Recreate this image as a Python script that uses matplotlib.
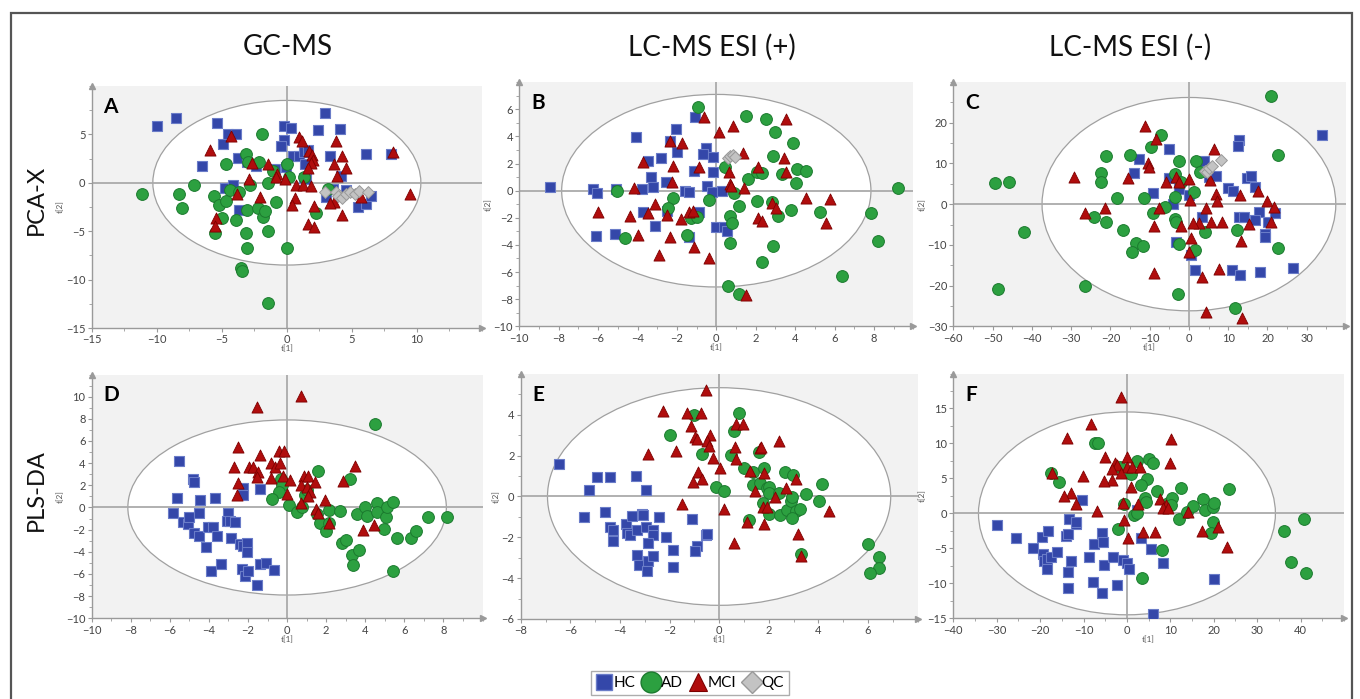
import matplotlib
matplotlib.use('Agg')
import matplotlib.pyplot as plt
from matplotlib.patches import Ellipse, Rectangle
from matplotlib.ticker import MultipleLocator
from matplotlib.lines import Line2D

plt.rcParams['font.family'] = ['Lato', 'DejaVu Sans']

COL_TITLES = ["GC-MS", "LC-MS ESI (+)", "LC-MS ESI (-)"]
ROW_TITLES = ["PCA-X", "PLS-DA"]
GROUPS = ["HC", "AD", "MCI", "QC"]

# ---------------- Panel A (GC-MS, PCA-X) ----------------
A_HC = [(-9.95, 5.9), (-8.55, 6.65), (-5.4, 6.2), (-4.5, 5.0), (-3.93, 5.0), (-4.92, 3.97),
        (-6.56, 1.76), (-3.78, 2.59), (-3.06, 2.1), (-2.4, 1.72), (-4.72, -0.52), (-4.13, -0.24),
        (-3.65, -2.83), (-0.2, 5.9), (0.3, 5.69), (-0.23, 4.41), (-0.43, 3.83), (-0.89, 1.41),
        (-0.03, 1.66), (0.46, 2.76), (0.97, 2.76), (1.33, 3.2), (1.66, 3.38), (1.43, 1.9),
        (1.28, 0.45), (1.48, 0.38), (2.96, 7.17), (2.4, 5.45), (4.06, 5.52), (3.34, 2.76),
        (4.16, 0.69), (3.52, -0.66), (3.04, -1.45), (4.52, -0.76), (5.48, -2.55), (6.1, -2.24),
        (6.43, -1.34), (6.12, 2.97), (8.04, 2.93)]
A_AD = [(-11.15, -1.2), (-8.29, -1.17), (-8.04, -2.59), (-7.14, -0.24), (-5.59, -1.38), (-5.23, -2.31),
        (-4.64, -1.86), (-4.67, 1.97), (-5.0, -3.62), (-5.56, -5.24), (-3.9, -3.83), (-4.36, -0.76),
        (-3.65, -1.0), (-3.14, 2.93), (-3.01, 2.1), (-2.8, -0.24), (-3.06, -2.83), (-3.14, -5.24),
        (-3.06, -6.79), (-3.52, -8.76), (-3.44, -9.14), (-2.14, 2.1), (-2.24, -2.59), (-1.84, -3.52),
        (-1.71, -2.9), (-1.43, -0.07), (-1.48, -5.03), (-1.45, -12.38), (-1.91, 5.0), (-0.87, -2.0),
        (-1.05, 1.21), (0.0, 1.9), (0.2, 0.55), (0.0, -6.72), (1.28, 0.62), (2.22, -3.1), (3.19, -0.66)]
A_MCI = [(-5.92, 3.38), (-4.29, 4.83), (-2.68, 2.07), (-2.91, 0.38), (-3.85, -1.2), (-5.48, -3.62),
         (-5.54, -4.48), (-2.07, -1.52), (-1.45, 1.9), (-0.77, 0.86), (-0.87, 0.62), (-0.15, 0.38),
         (0.74, -0.24), (0.64, -1.55), (0.43, -2.31), (0.94, 4.76), (1.15, 4.31), (1.71, 3.28),
         (1.91, 2.86), (2.04, 2.34), (1.84, 2.0), (1.66, 1.55), (1.25, -0.24), (1.89, -0.31),
         (1.61, -4.21), (2.12, -4.55), (2.09, -2.38), (3.75, 4.34), (4.21, 2.76), (3.65, 1.9),
         (3.83, 0.69), (4.57, 1.48), (3.62, -1.97), (3.32, -2.14), (4.21, -3.34), (5.69, -1.52),
         (8.16, 3.2), (9.44, -1.17)]
A_QC = [(2.93, -1.0), (3.8, -1.0), (3.95, -1.34), (4.26, -1.55), (4.52, -1.2), (4.82, -0.93),
        (5.2, -1.2), (5.54, -0.86), (6.25, -0.93)]
A_ELLIPSE = (10.3, 8.5)

# ---------------- Panel B (LC-MS ESI+, PCA-X) ----------------
B_HC = [(-8.44, 0.3), (-6.28, 0.12), (-6.04, -0.15), (-6.13, -3.32), (-5.14, -3.2), (-5.09, 0.12),
        (-4.08, 3.93), (-3.49, 2.19), (-3.33, 1.03), (-3.79, 0.1), (-3.2, 0.3), (-2.83, 2.43),
        (-2.55, 0.66), (-2.49, -1.5), (-3.74, -1.55), (-3.1, -2.58), (-2.35, 3.66), (-2.05, 4.52),
        (-1.98, 2.88), (-1.59, -0.02), (-1.39, -0.07), (-1.39, -3.42), (-1.08, 5.46), (-1.12, 1.48),
        (-0.86, -1.55), (-0.54, 3.17), (-0.66, 2.68), (-0.15, 2.51), (-0.19, 1.35), (-0.46, 0.34),
        (-0.24, -0.12), (0.3, -0.02), (-0.03, -2.7), (0.41, -2.66), (0.56, -2.98)]
B_AD = [(-0.95, 6.2), (-5.06, -0.02), (-4.65, -3.52), (-2.22, -0.57), (-2.44, -1.25), (-1.3, -2.04),
        (-0.96, -1.92), (-1.51, -3.27), (-0.36, -0.69), (0.44, 1.77), (0.91, -0.2), (0.69, -1.84),
        (0.8, -2.36), (0.69, -3.88), (1.15, -1.13), (0.58, -7.0), (1.17, -7.65), (1.49, 5.53),
        (2.5, 5.29), (2.98, 4.3), (3.91, 3.54), (2.86, 2.58), (1.62, 0.86), (2.05, 1.35),
        (2.34, 1.28), (3.35, 1.23), (4.08, 1.6), (4.53, 1.48), (4.04, 0.59), (2.08, -0.74),
        (2.84, -0.86), (3.15, -1.87), (3.79, -1.43), (2.89, -4.06), (2.34, -5.29), (5.26, -1.6),
        (6.38, -6.29), (7.83, -1.67), (8.19, -3.71), (9.2, 0.2)]
B_MCI = [(-0.64, 5.46), (0.15, 4.3), (0.86, 4.77), (3.54, 5.29), (1.37, 2.75), (2.13, 1.77),
         (3.43, 2.39), (3.54, 1.4), (0.66, 1.4), (0.69, 0.47), (0.73, 0.34), (1.42, 0.17),
         (-0.88, 1.72), (-2.22, 1.84), (-1.73, 3.49), (-2.35, 3.66), (-2.27, 0.66), (-3.71, 2.09),
         (-4.16, 0.22), (-3.11, -0.98), (-3.49, -1.67), (-4.38, -1.87), (-5.99, -1.6), (-3.96, -3.27),
         (-2.89, -4.75), (-2.52, -1.8), (-2.35, -3.39), (-1.79, -2.09), (-1.37, -1.55), (-1.17, -1.5),
         (-1.12, -4.13), (-0.36, -4.99), (2.84, -0.93), (3.01, -1.3), (2.13, -1.99), (2.34, -2.21),
         (4.55, -0.52), (5.77, -0.61), (5.57, -2.41), (1.49, -7.7)]
B_QC = [(0.6, 2.4), (0.72, 2.55), (0.85, 2.65), (0.95, 2.5)]
B_ELLIPSE = (7.85, 7.1)

# ---------------- Panel C (LC-MS ESI-, PCA-X) ----------------
C_HC = [(-5.08, 13.5), (-12.8, 11.2), (-14.0, 7.7), (-9.15, 2.66), (-5.08, 6.33), (-2.54, 3.72),
        (-4.07, -0.05), (0.0, 2.24), (3.81, 10.67), (5.0, 6.74), (6.95, 6.99), (-3.39, -9.2),
        (0.59, -12.5), (1.44, -16.2), (3.39, -3.24), (9.92, 3.88), (11.19, 3.22), (12.7, 15.7),
        (12.46, 14.35), (14.83, 6.33), (15.85, 6.9), (16.95, 4.29), (12.88, -3.24), (13.9, -3.24),
        (17.8, -1.85), (16.78, -3.9), (20.17, -4.5), (21.86, -2.1), (19.4, -7.33), (19.3, -8.0),
        (10.93, -16.2), (13.1, -17.4), (18.05, -16.75), (26.6, -15.76), (33.8, 17.1)]
C_AD = [(20.85, 26.6), (-49.4, 5.27), (-45.76, 5.35), (-41.95, -6.9), (-48.5, -20.9), (-26.36, -20.0),
        (-24.15, -3.24), (-22.5, 7.56), (-22.3, 5.35), (-21.1, 11.9), (-21.0, -4.3), (-18.2, 1.42),
        (-16.8, -6.3), (-14.9, 12.06), (-13.4, -9.6), (-14.6, -11.8), (-11.7, -10.4), (-11.5, 1.42),
        (-9.75, 14.1), (-9.15, -2.26), (-7.1, 17.1), (-6.2, -0.62), (-3.56, 7.4), (-3.64, 1.83),
        (-3.64, -3.65), (-3.22, -4.47), (-2.54, 10.6), (-2.12, 5.52), (-2.54, -9.87), (-2.7, -22.15),
        (1.27, 2.9), (1.69, 10.6), (2.7, 7.97), (1.44, -11.26), (3.98, -6.76), (12.2, -6.35),
        (11.86, -25.6), (22.8, 12.06), (22.8, -10.85)]
C_MCI = [(-11.27, 19.27), (-8.3, 15.97), (-10.5, 10.0), (-10.17, 9.2), (-15.5, 6.33), (-5.93, 5.35),
         (-3.39, 6.74), (-2.54, 5.35), (0.0, 6.17), (0.34, 1.0), (6.36, 13.5), (5.25, 5.9),
         (6.78, 2.4), (7.2, 0.77), (4.4, -1.0), (13.05, 2.24), (17.54, 3.22), (19.83, 0.85),
         (21.6, -0.79), (20.9, -4.3), (15.4, -4.87), (13.14, -8.97), (8.3, -4.3), (5.5, -4.3),
         (2.54, -4.7), (1.0, -4.55), (0.59, -8.25), (0.0, -11.65), (-1.95, -5.3), (-7.7, -0.87),
         (-8.9, -5.35), (-8.9, -17.0), (-21.44, -0.87), (-26.36, -2.26), (-29.3, 6.6), (3.39, -17.8),
         (7.63, -16.0), (4.24, -26.56), (13.56, -28.0)]
C_QC = [(4.15, 8.1), (4.6, 7.95), (5.0, 8.8), (5.85, 9.45), (8.2, 10.8)]
C_ELLIPSE = (37.4, 26.2)

# ---------------- Panel D (GC-MS, PLS-DA) ----------------
D_HC = [(-5.51, 4.2), (-5.65, 0.89), (-5.82, -0.53), (-5.31, -1.34), (-5.05, -1.49), (-5.0, -0.83),
        (-4.8, 2.54), (-4.76, 2.27), (-4.76, -2.33), (-4.49, -2.54), (-4.5, -0.47), (-4.45, 0.68),
        (-4.16, -3.53), (-4.03, -1.73), (-3.77, -1.73), (-3.69, 0.83), (-3.6, -2.54), (-3.89, -5.7),
        (-3.4, -5.1), (-3.0, -0.47), (-3.09, -1.19), (-2.92, -1.19), (-2.66, -1.28), (-2.87, -2.72),
        (-2.41, -3.29), (-2.27, -3.44), (-2.06, -3.23), (-2.03, -3.98), (-2.27, 1.73), (-2.27, 1.13),
        (-1.38, 1.67), (-2.32, -5.55), (-2.15, -6.15), (-2.01, -5.73), (-1.38, -5.1), (-1.08, -5.03),
        (-0.65, -5.63), (-1.52, -6.98)]
D_AD = [(4.52, 7.53), (1.6, 3.29), (3.23, 2.54), (-0.31, 2.57), (-0.27, 2.03), (-0.39, 1.43),
        (-0.78, 0.74), (0.1, 0.23), (0.53, -0.38), (0.75, 0.02), (0.92, 1.13), (1.0, 1.58),
        (1.55, -0.62), (1.66, -1.37), (2.0, -2.09), (2.12, -0.23), (2.12, -1.37), (2.71, -0.29),
        (2.8, -3.23), (3.0, -2.93), (3.31, -4.29), (3.7, -3.83), (3.36, -5.19), (3.57, -0.59),
        (3.99, 0.02), (4.11, -0.77), (4.59, 0.44), (4.59, -0.38), (5.05, -0.83), (5.1, 0.02),
        (5.44, 0.47), (4.97, -1.97), (5.61, -2.78), (5.44, -5.73), (6.35, -2.72), (6.59, -2.09),
        (7.2, -0.83), (8.17, -0.83)]
D_MCI = [(-1.52, 9.1), (0.72, 10.06), (-2.49, 5.43), (-2.7, 3.68), (-2.53, 2.18), (-2.58, 1.13),
         (-1.38, 4.74), (-1.93, 3.63), (-1.77, 3.63), (-1.47, 3.23), (-1.55, 2.78), (-0.84, 3.98),
         (-0.61, 3.68), (-0.36, 3.98), (-0.84, 2.63), (-0.39, 5.1), (-0.15, 5.1), (-0.19, 2.84),
         (0.15, 2.48), (0.02, 1.22), (0.87, 2.84), (1.09, 2.84), (0.72, 2.03), (1.01, 1.88),
         (1.18, 1.43), (1.06, 1.04), (1.43, 2.33), (0.72, 0.38), (1.48, -0.17), (1.6, -0.47),
         (1.95, 0.68), (2.12, -1.43), (2.85, 2.39), (3.48, 3.78), (3.87, -2.03), (4.47, -1.58)]
D_ELLIPSE = (8.15, 7.9)

# ---------------- Panel E (LC-MS ESI+, PLS-DA) ----------------
E_HC = [(-6.45, 1.6), (-5.23, 0.3), (-4.91, 0.95), (-4.4, 0.95), (-3.35, 1.0), (-2.95, 0.3),
        (-5.45, -1.0), (-4.6, -0.77), (-4.4, -1.49), (-4.27, -1.62), (-4.27, -2.2), (-3.76, -1.33),
        (-3.71, -1.79), (-3.58, -1.9), (-3.52, -0.97), (-3.32, -1.66), (-3.12, -0.84), (-3.08, -0.93),
        (-2.96, -1.49), (-2.65, -1.66), (-2.68, -1.9), (-2.85, -2.28), (-2.42, -1.0), (-3.32, -2.85),
        (-3.25, -3.34), (-2.88, -3.18), (-2.92, -3.67), (-2.68, -2.9), (-2.15, -2.0), (-1.87, -2.6),
        (-1.85, -3.46), (-1.08, -1.1), (-0.91, -2.44), (-0.97, -2.69), (-0.53, -1.87), (-0.5, -1.82)]
E_AD = [(-1.0, 3.98), (-1.98, 3.02), (-0.7, 2.07), (-0.13, 0.48), (0.21, 0.26), (0.8, 4.08),
        (0.61, 3.21), (0.48, 2.02), (1.02, 1.41), (1.38, 1.2), (1.62, 2.18), (1.38, 0.54),
        (1.65, 0.67), (1.82, 1.38), (1.92, 0.43), (2.02, 0.48), (2.02, 0.18), (1.78, -0.34),
        (2.02, -0.84), (2.42, 0.15), (2.45, -0.92), (2.65, 1.21), (2.96, 1.03), (2.72, -0.64),
        (2.9, -0.23), (2.95, -0.02), (3.12, -0.69), (3.26, -0.61), (2.92, -1.05), (3.5, 0.1),
        (4.04, -0.23), (4.13, 0.62), (1.2, -1.13), (3.3, -2.8), (6.01, -2.33), (6.46, -2.97),
        (6.46, -3.51), (6.08, -3.75)]
E_MCI = [(-0.54, 5.23), (-2.27, 4.2), (-1.31, 4.11), (-0.73, 4.08), (-1.13, 3.43), (-0.97, 2.89),
         (-0.88, 2.8), (-0.37, 3.0), (-0.5, 2.72), (-0.39, 2.48), (-1.74, 2.23), (-2.85, 2.07),
         (-0.23, 1.9), (0.03, 1.41), (-0.87, 1.2), (-0.7, 0.84), (-1.04, 0.72), (-1.51, -0.39),
         (0.2, -0.61), (0.68, 3.57), (0.95, 3.57), (0.64, 2.44), (0.7, 1.82), (1.65, 2.36),
         (1.69, 2.44), (2.41, 2.72), (1.25, 1.25), (1.82, 1.13), (1.45, 0.26), (2.26, -0.02),
         (2.7, 0.43), (3.12, 0.84), (1.78, -0.51), (1.92, -0.51), (1.11, -1.26), (1.82, -1.33),
         (4.43, -0.72), (3.19, -1.82), (0.61, -2.28), (3.32, -2.89)]
E_ELLIPSE = (6.92, 5.33)

# ---------------- Panel F (LC-MS ESI-, PLS-DA) ----------------
F_HC = [(-29.9, -1.67), (-25.6, -3.57), (-21.7, -5.0), (-19.65, -3.33), (-18.1, -2.48), (-19.4, -5.86),
        (-19.1, -6.76), (-18.5, -6.52), (-17.6, -6.29), (-18.5, -8.0), (-16.2, -5.48), (-14.1, -3.24),
        (-13.5, -3.0), (-13.4, -0.86), (-11.8, -1.52), (-11.75, -1.19), (-10.4, 1.9), (-12.9, -6.76),
        (-13.5, -8.43), (-13.5, -10.7), (-8.68, -6.19), (-7.52, -4.43), (-7.75, -9.86), (-5.83, -11.43),
        (-5.83, -2.86), (-5.45, -4.05), (-5.3, -7.38), (-3.15, -6.19), (-2.38, -10.24), (-0.84, -6.67),
        (0.08, -7.05), (0.54, -8.0), (2.38, 0.48), (3.15, -3.57), (5.53, -5.1), (8.37, -7.05),
        (20.1, -9.38), (6.07, -14.38)]
F_AD = [(-17.5, 5.71), (-15.66, 4.43), (-7.37, 10.1), (-6.6, 10.0), (-1.6, 6.67), (0.84, 5.62),
        (2.38, 7.52), (5.14, 7.76), (5.9, 7.24), (4.53, 4.86), (3.15, 4.05), (4.15, 2.24),
        (4.38, 1.57), (-0.69, 1.33), (1.54, -0.24), (2.3, 0.0), (-2.0, -2.24), (6.99, 3.24),
        (9.52, 1.52), (10.3, 2.24), (10.06, 1.19), (12.36, 3.57), (12.05, -0.81), (13.74, 0.24),
        (15.12, 1.1), (17.43, 2.0), (17.97, 0.48), (19.73, 0.95), (20.1, 1.43), (19.9, -1.19),
        (19.27, -2.76), (23.57, 3.43), (7.98, -5.24), (3.53, -9.29), (36.24, -2.48), (37.77, -6.9),
        (40.84, -0.81), (41.15, -8.48)]
F_MCI = [(-1.46, 16.57), (-8.37, 12.71), (-13.9, 10.71), (10.13, 10.57), (9.9, 7.24), (-5.07, 8.0),
         (-2.76, 7.24), (-2.38, 6.9), (-3.53, 6.29), (-0.08, 8.0), (0.08, 6.57), (1.23, 6.67),
         (2.99, 6.57), (-1.38, 5.71), (-3.53, 4.76), (-5.22, 4.67), (0.84, 3.81), (-10.2, 5.33),
         (-17.35, 5.71), (-12.97, 2.86), (-14.5, 2.48), (-11.75, 1.29), (-6.99, 0.38), (-0.84, 1.52),
         (2.61, 1.29), (-0.69, -0.95), (0.3, -3.57), (3.6, -2.71), (6.45, -2.71), (7.6, 2.0),
         (8.98, 1.19), (8.37, 0.81), (9.52, 0.81), (13.97, 0.24), (17.35, -2.48), (20.88, -2.0),
         (22.96, -4.86)]
F_ELLIPSE = (34.2, 14.5)

# axis ranges and labelled ticks
A_XLIM, A_YLIM, A_XT, A_YT = (-15, 15), (-15, 10), [-15, -10, -5, 0, 5, 10], [-15, -10, -5, 0, 5]
B_XLIM, B_YLIM, B_XT, B_YT = (-10, 10), (-10, 8), [-10, -8, -6, -4, -2, 0, 2, 4, 6, 8], [-10, -8, -6, -4, -2, 0, 2, 4, 6]
C_XLIM, C_YLIM, C_XT, C_YT = (-60, 40), (-30, 30), [-60, -50, -40, -30, -20, -10, 0, 10, 20, 30], [-30, -20, -10, 0, 10, 20]
D_XLIM, D_YLIM, D_XT, D_YT = (-10, 10), (-10, 12), [-10, -8, -6, -4, -2, 0, 2, 4, 6, 8], [-10, -8, -6, -4, -2, 0, 2, 4, 6, 8, 10]
E_XLIM, E_YLIM, E_XT, E_YT = (-8, 8), (-6, 6), [-8, -6, -4, -2, 0, 2, 4, 6], [-6, -4, -2, 0, 2, 4]
F_XLIM, F_YLIM, F_XT, F_YT = (-40, 50), (-15, 20), [-40, -30, -20, -10, 0, 10, 20, 30, 40], [-15, -10, -5, 0, 5, 10, 15]

STYLE = {
    "HC": dict(marker='s', s=54, facecolor='#3447a9', edgecolor='#6a7cc8', linewidths=0.8),
    "AD": dict(marker='o', s=72, facecolor='#2ca040', edgecolor='#1b7a2e', linewidths=0.7),
    "MCI": dict(marker='^', s=64, facecolor='#b00d0d', edgecolor='#7c0000', linewidths=0.6),
    "QC": dict(marker='D', s=36, facecolor='#c3c3c3', edgecolor='#999999', linewidths=0.7),
}

W, H = 1360, 699
fig = plt.figure(figsize=(W / 100, H / 100), dpi=100)

def fb(left, top, right, bottom):
    return [left / W, 1 - bottom / H, (right - left) / W, (bottom - top) / H]

panels = [
    ("A", fb(91.7, 85.9, 482.0, 328.0), A_XLIM, A_YLIM, A_XT, A_YT, A_ELLIPSE, [A_HC, A_AD, A_MCI, A_QC]),
    ("B", fb(519.3, 82.2, 913.3, 326.3), B_XLIM, B_YLIM, B_XT, B_YT, B_ELLIPSE, [B_HC, B_AD, B_MCI, B_QC]),
    ("C", fb(953.3, 82.0, 1346.0, 326.3), C_XLIM, C_YLIM, C_XT, C_YT, C_ELLIPSE, [C_HC, C_AD, C_MCI, C_QC]),
    ("D", fb(91.7, 374.5, 482.5, 618.3), D_XLIM, D_YLIM, D_XT, D_YT, D_ELLIPSE, [D_HC, D_AD, D_MCI, []]),
    ("E", fb(520.7, 374.0, 917.5, 619.0), E_XLIM, E_YLIM, E_XT, E_YT, E_ELLIPSE, [E_HC, E_AD, E_MCI, []]),
    ("F", fb(953.3, 373.5, 1344.0, 618.3), F_XLIM, F_YLIM, F_XT, F_YT, F_ELLIPSE, [F_HC, F_AD, F_MCI, []]),
]

AX_GRAY = '#9a9a9a'
for letter, rect, xlim, ylim, xt, yt, ell, groups in panels:
    ax = fig.add_axes(rect)
    ax.set_facecolor('#f2f2f2')
    ax.set_xlim(*xlim)
    ax.set_ylim(*ylim)
    ax.add_patch(Ellipse((0, 0), 2 * ell[0], 2 * ell[1], facecolor='white',
                         edgecolor='#a0a0a0', lw=0.9, zorder=1))
    ax.axhline(0, color='#aaaaaa', lw=1.3, zorder=2)
    ax.axvline(0, color='#aaaaaa', lw=1.3, zorder=2)
    for name, pts in zip(GROUPS, groups):
        if not pts:
            continue
        xs = [p[0] for p in pts]
        ys = [p[1] for p in pts]
        ax.scatter(xs, ys, zorder=3, **STYLE[name])
    for sp in ('top', 'right'):
        ax.spines[sp].set_visible(False)
    for sp in ('left', 'bottom'):
        ax.spines[sp].set_color(AX_GRAY)
        ax.spines[sp].set_linewidth(1.0)
    ax.set_xticks(xt)
    ax.set_yticks(yt)
    ax.xaxis.set_minor_locator(MultipleLocator((xt[1] - xt[0]) / 2))
    ax.yaxis.set_minor_locator(MultipleLocator((yt[1] - yt[0]) / 2))
    ax.tick_params(which='both', direction='out', color=AX_GRAY, labelsize=8,
                   labelcolor='#444444', pad=1.5)
    ax.tick_params(which='major', length=3)
    ax.tick_params(which='minor', length=2)
    ax.set_xlabel('t[1]', fontsize=6, color='#555555', labelpad=0)
    ax.set_ylabel('t[2]', fontsize=6, color='#555555', labelpad=1)
    ax.plot(1, 0, '>', color=AX_GRAY, ms=5, transform=ax.transAxes, clip_on=False, zorder=5)
    ax.plot(0, 1, '^', color=AX_GRAY, ms=5, transform=ax.transAxes, clip_on=False, zorder=5)
    ax.text(0.03, 0.955, letter, transform=ax.transAxes, fontsize=15, fontweight='bold',
            ha='left', va='top', color='black', zorder=6)

# column and row titles
for cx, t in zip([288, 712, 1130], COL_TITLES):
    fig.text(cx / W, 1 - 47 / H, t, fontsize=20, ha='center', va='center', color='#111111')
for cy, t in zip([200, 490], ROW_TITLES):
    fig.text(36 / W, 1 - cy / H, t, fontsize=17, ha='center', va='center', rotation=90, color='#111111')

# outer frame
fig.patches.append(Rectangle((11 / W, -0.02), (1352 - 11) / W, 1 - 13 / H + 0.02,
                             transform=fig.transFigure, fill=False, edgecolor='#555555', lw=1.6))

# legend
handles = [
    Line2D([], [], ls='none', marker='s', ms=12, mfc='#3447a9', mec='#6a7cc8', mew=1.0),
    Line2D([], [], ls='none', marker='o', ms=15, mfc='#2ca040', mec='#1b7a2e', mew=1.0),
    Line2D([], [], ls='none', marker='^', ms=13, mfc='#b00d0d', mec='#7c0000', mew=0.8),
    Line2D([], [], ls='none', marker='D', ms=11, mfc='#c3c3c3', mec='#999999', mew=1.0),
]
leg = fig.legend(handles, GROUPS, loc='center', bbox_to_anchor=(690 / W, 1 - 683 / H), ncol=4,
                 fontsize=11, frameon=True, fancybox=False, edgecolor='#999999',
                 handlelength=1.0, handletextpad=0.15, columnspacing=0.5, borderpad=0.3)
leg.get_frame().set_linewidth(1.0)

fig.savefig('out.png', dpi=100)
